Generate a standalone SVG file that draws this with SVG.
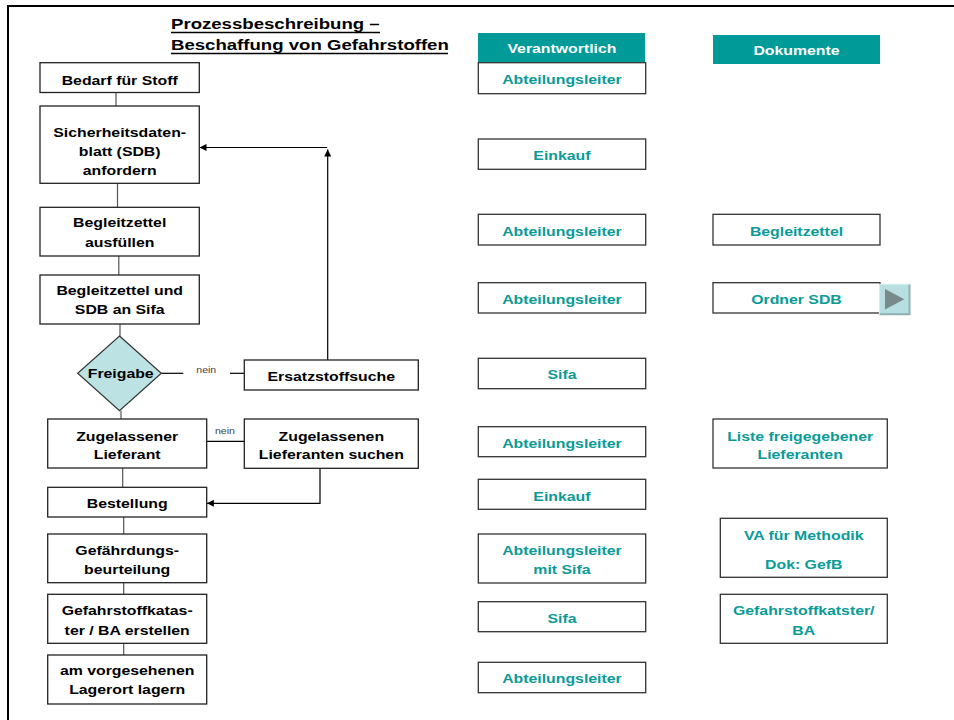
<svg xmlns="http://www.w3.org/2000/svg" width="954" height="720" viewBox="0 0 954 720">
<defs>
<style>
text{font-family:"Liberation Sans",Arial,sans-serif;font-weight:bold;transform:scale(1.2,1);}
.ttl{font-size:15.5px;fill:#000;}
.n{font-size:13.2px;fill:#000;text-anchor:middle;}
.r{font-size:13.2px;fill:#0a9b97;text-anchor:middle;}
.h{font-size:13.2px;fill:#fff;text-anchor:middle;}
.lbl{font-size:8.8px;font-weight:normal;fill:#444;text-anchor:middle;}
.box{fill:#fff;stroke:#222;stroke-width:1.3;}
.rbox{fill:#fff;stroke:#333;stroke-width:1.3;}
.hdr{fill:#009b98;}
.ln{stroke:#555;stroke-width:1.2;fill:none;}
.ar{stroke:#000;stroke-width:1.2;fill:none;}
</style>
<marker id="ah" viewBox="0 0 10 10" refX="10" refY="5" markerWidth="8" markerHeight="7" markerUnits="userSpaceOnUse" orient="auto">
<path d="M0,0 L10,5 L0,10 z" fill="#000"/>
</marker>
</defs>
<rect width="954" height="720" fill="#fff"/>
<rect x="8" y="6" width="970" height="740" fill="none" stroke="#000" stroke-width="2"/>

<g id="title">
<text class="ttl" x="142.5" y="29.3">Prozessbeschreibung –</text>
<text class="ttl" x="142.5" y="50">Beschaffung von Gefahrstoffen</text>
<line x1="171" y1="32.5" x2="380" y2="32.5" stroke="#000" stroke-width="1.5"/>
<line x1="171" y1="53.5" x2="448" y2="53.5" stroke="#000" stroke-width="1.5"/>
</g>

<g id="connectors">
<line class="ln" x1="116" y1="92.5" x2="116" y2="106"/>
<line class="ln" x1="117.5" y1="183.3" x2="117.5" y2="207.3"/>
<line class="ln" x1="118.8" y1="256" x2="118.8" y2="275"/>
<line class="ln" x1="120" y1="324" x2="120" y2="336"/>
<line class="ln" x1="121" y1="410.7" x2="121" y2="419"/>
<line class="ln" x1="122.7" y1="468" x2="122.7" y2="487.3"/>
<line class="ln" x1="123.7" y1="517" x2="123.7" y2="534"/>
<line class="ln" x1="123.7" y1="582.7" x2="123.7" y2="594.3"/>
<line class="ln" x1="123.7" y1="643.3" x2="123.7" y2="655"/>
<line class="ar" x1="161.3" y1="373.3" x2="183.3" y2="373.3"/>
<line class="ar" x1="230" y1="373.3" x2="244.3" y2="373.3"/>
<text class="lbl" x="171.9" y="373.5">nein</text>
<path class="ar" d="M327.7,360 V149.5" marker-end="url(#ah)"/>
<path class="ar" d="M327.2,147.5 H199.5" marker-end="url(#ah)"/>
<line class="ar" x1="206.7" y1="441.3" x2="244.3" y2="441.3"/>
<text class="lbl" x="187.5" y="434">nein</text>
<path class="ar" d="M320,468.3 V503.3 H206.9" marker-end="url(#ah)"/>
</g>

<g id="n-bedarf">
<rect class="box" x="40" y="62.7" width="159.3" height="29.8"/>
<text class="n" x="99.75" y="85.5">Bedarf für Stoff</text>
</g>
<g id="n-sdb">
<rect class="box" x="40" y="106" width="159.3" height="77.3"/>
<text class="n" x="99.75" y="137.3">Sicherheitsdaten-</text>
<text class="n" x="99.75" y="156.3">blatt (SDB)</text>
<text class="n" x="99.75" y="175.5">anfordern</text>
</g>
<g id="n-begleit">
<rect class="box" x="40" y="207.3" width="159.3" height="48.7"/>
<text class="n" x="99.75" y="227.3">Begleitzettel</text>
<text class="n" x="99.75" y="247.3">ausfüllen</text>
</g>
<g id="n-begleit-sifa">
<rect class="box" x="40" y="275" width="159.3" height="49"/>
<text class="n" x="99.75" y="294.7">Begleitzettel und</text>
<text class="n" x="99.75" y="314.3">SDB an Sifa</text>
</g>
<g id="n-freigabe">
<polygon points="119.5,336 161.3,373.3 119.5,410.7 77.7,373.3" fill="#bde2e4" stroke="#333" stroke-width="1.2"/>
<text class="n" x="100.6" y="378.3">Freigabe</text>
</g>
<g id="n-ersatz">
<rect class="box" x="244.3" y="360" width="174" height="30"/>
<text class="n" x="276.1" y="380.7">Ersatzstoffsuche</text>
</g>
<g id="n-zugelassener">
<rect class="box" x="47.7" y="419" width="159" height="49"/>
<text class="n" x="106" y="440.7">Zugelassener</text>
<text class="n" x="106" y="459.3">Lieferant</text>
</g>
<g id="n-suchen">
<rect class="box" x="244.3" y="419" width="174" height="49.3"/>
<text class="n" x="276.1" y="440.7">Zugelassenen</text>
<text class="n" x="276.1" y="459.3">Lieferanten suchen</text>
</g>
<g id="n-bestellung">
<rect class="box" x="47.7" y="487.3" width="159" height="29.7"/>
<text class="n" x="106" y="507.7">Bestellung</text>
</g>
<g id="n-gefb">
<rect class="box" x="47.7" y="534" width="159" height="48.7"/>
<text class="n" x="106" y="555">Gefährdungs-</text>
<text class="n" x="106" y="574">beurteilung</text>
</g>
<g id="n-kataster">
<rect class="box" x="47.7" y="594.3" width="159" height="49"/>
<text class="n" x="106" y="615">Gefahrstoffkatas-</text>
<text class="n" x="106" y="635">ter / BA erstellen</text>
</g>
<g id="n-lagern">
<rect class="box" x="47.7" y="655" width="159" height="49"/>
<text class="n" x="106" y="675">am vorgesehenen</text>
<text class="n" x="106" y="694">Lagerort lagern</text>
</g>

<g id="h-verantwortlich">
<rect class="hdr" x="478" y="33" width="167" height="29"/>
<text class="h" x="468.3" y="53.3">Verantwortlich</text>
</g>
<g id="h-dokumente">
<rect class="hdr" x="713" y="35" width="167" height="29"/>
<text class="h" x="663.75" y="54.7">Dokumente</text>
</g>

<g id="v1"><rect class="rbox" x="478.3" y="62.7" width="167.4" height="31"/><text class="r" x="468.3" y="84.3">Abteilungsleiter</text></g>
<g id="v2"><rect class="rbox" x="478.3" y="139" width="167.4" height="30.3"/><text class="r" x="468.3" y="160">Einkauf</text></g>
<g id="v3"><rect class="rbox" x="478.3" y="214.3" width="167.4" height="30.7"/><text class="r" x="468.3" y="235.7">Abteilungsleiter</text></g>
<g id="v4"><rect class="rbox" x="478.3" y="282.7" width="167.4" height="30.3"/><text class="r" x="468.3" y="303.7">Abteilungsleiter</text></g>
<g id="v5"><rect class="rbox" x="478.3" y="358.3" width="167.4" height="30.4"/><text class="r" x="468.3" y="379">Sifa</text></g>
<g id="v6"><rect class="rbox" x="478.3" y="426.7" width="167.4" height="30"/><text class="r" x="468.3" y="448.3">Abteilungsleiter</text></g>
<g id="v7"><rect class="rbox" x="478.3" y="479.3" width="167.4" height="30"/><text class="r" x="468.3" y="501">Einkauf</text></g>
<g id="v8"><rect class="rbox" x="478.3" y="534" width="167.4" height="49"/><text class="r" x="468.3" y="555.3">Abteilungsleiter</text><text class="r" x="468.3" y="574">mit Sifa</text></g>
<g id="v9"><rect class="rbox" x="478.3" y="601.7" width="167.4" height="30"/><text class="r" x="468.3" y="623.3">Sifa</text></g>
<g id="v10"><rect class="rbox" x="478.3" y="662.3" width="167.4" height="30.4"/><text class="r" x="468.3" y="683.3">Abteilungsleiter</text></g>

<g id="d1"><rect class="rbox" x="713" y="214.3" width="167" height="30.7"/><text class="r" x="663.75" y="235.7">Begleitzettel</text></g>
<g id="d2"><rect class="rbox" x="713" y="282.7" width="167" height="30.3"/><text class="r" x="663.75" y="303.7">Ordner SDB</text></g>
<g id="d2-button">
<rect x="879.5" y="284.3" width="30" height="30" fill="#b7dfe2"/>
<path d="M879.5,314.3 H909.5 V284.3" fill="none" stroke="#8eb1b3" stroke-width="2"/>
<path d="M879.5,314.3 V284.3 H909.5" fill="none" stroke="#d3ecee" stroke-width="1.2"/>
<polygon points="885,289 885,309.5 904.3,299.2" fill="#788a8a"/>
</g>
<g id="d3"><rect class="rbox" x="713" y="419" width="174.3" height="49"/><text class="r" x="666.8" y="440.7">Liste freigegebener</text><text class="r" x="666.8" y="459.3">Lieferanten</text></g>
<g id="d4"><rect class="rbox" x="720.3" y="518.3" width="167" height="59"/><text class="r" x="669.8" y="540">VA für Methodik</text><text class="r" x="669.8" y="569">Dok: GefB</text></g>
<g id="d5"><rect class="rbox" x="720.3" y="594.3" width="167" height="49"/><text class="r" x="669.8" y="615">Gefahrstoffkatster/</text><text class="r" x="669.8" y="635">BA</text></g>
</svg>
